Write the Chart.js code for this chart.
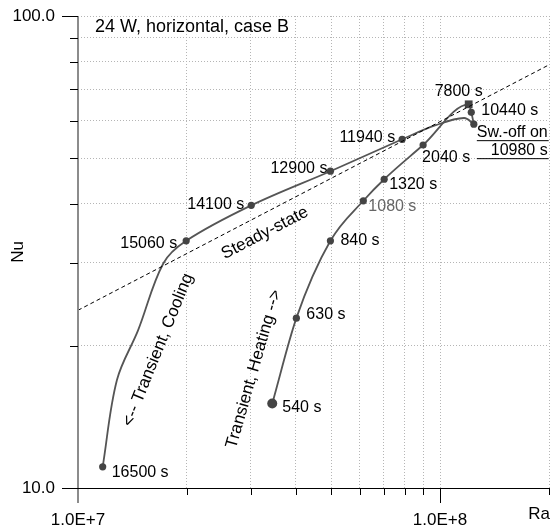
<!DOCTYPE html>
<html>
<head>
<meta charset="utf-8">
<script src="https://cdn.jsdelivr.net/npm/chart.js@4.4.1/dist/chart.umd.min.js"></script>
<style>
  html, body { margin: 0; padding: 0; background: #fff; }
  #wrap { width: 556px; height: 527px; }
</style>
</head>
<body>
<div id="wrap"><canvas id="chart" width="556" height="527"></canvas></div>
<script>
// axis ticks
const xTicks = [1e7, 2e7, 3e7, 4e7, 5e7, 6e7, 7e7, 8e7, 9e7, 1e8, 2e8];
const xTickLabels = { 1e7: '1.0E+7', 1e8: '1.0E+8' };
const yTicks = [10, 20, 30, 40, 50, 60, 70, 80, 90, 100];
const yTickLabels = { 10: '10.0', 100: '100.0' };

// steady-state correlation (dashed)
const steadyRa = [1e7, 2e8];
const steadyNu = [23.8, 78.8];

// transient heating
const heatTimes = ['540 s', '630 s', '840 s', '1080 s', '1320 s', '2040 s', '7800 s', '10440 s', '10980 s'];
const heatRa = [3.44e7, 4.01e7, 4.98e7, 6.14e7, 7.01e7, 8.98e7, 1.20e8, 1.22e8, 1.24e8];
const heatNu = [15.1, 22.9, 33.4, 40.6, 45.1, 53.3, 65.0, 62.5, 59.0];

// transient cooling (blank names = curve points without a marker)
const coolTimes = ['', '', '', '11940 s', '12900 s', '14100 s', '15060 s', '', '', '', '16500 s'];
const coolRa = [1.24e8, 1.165e8, 9.73e7, 7.86e7, 4.98e7, 3.01e7, 1.99e7, 1.72e7, 1.466e7, 1.281e7, 1.17e7];
const coolNu = [59.0, 60.8, 58.7, 54.8, 46.9, 39.7, 33.4, 29.9, 21.6, 16.94, 11.09];

const FONT = "'Liberation Sans', Arial, sans-serif";
const INK = '#444';

// label offsets from the marker: [dx, dy, align]
const labelOffsets = {
    '540 s': [10, 4, 'left'],
    '630 s': [10, -4, 'left'],
    '840 s': [10, 0, 'left'],
    '1080 s': [5, 6, 'left'],
    '1320 s': [5, 5, 'left'],
    '2040 s': [-1, 13, 'left'],
    '7800 s': [-10, -13, 'center'],
    '10440 s': [10, -2, 'left'],
    '10980 s': [3, 8, 'left'],
    '11940 s': [-7, -2, 'right'],
    '12900 s': [-3, -3, 'right'],
    '14100 s': [-7, -1, 'right'],
    '15060 s': [-9, 3, 'right'],
    '16500 s': [9, 6, 'left']
};

const toPoints = (xs, ys) => xs.map((v, i) => ({ x: v, y: ys[i] }));

const line = (ctx, x1, y1, x2, y2) => {
    ctx.beginPath();
    ctx.moveTo(x1, y1);
    ctx.lineTo(x2, y2);
    ctx.stroke();
};

const rotatedText = (ctx, text, x, y, deg) => {
    ctx.save();
    ctx.translate(x, y);
    ctx.rotate(deg * Math.PI / 180);
    ctx.textAlign = 'center';
    ctx.textBaseline = 'middle';
    ctx.fillText(text, 0, 0);
    ctx.restore();
};

// axes lines, tick marks, titles and text notes
const decor = {
    id: 'decor',
    afterDraw(chart) {
        const { ctx, chartArea: a, scales: { x, y } } = chart;
        ctx.save();

        // y axis, grey, runs down past the x axis to the 1.0E+7 label
        ctx.strokeStyle = '#8c8c8c';
        ctx.lineWidth = 2;
        line(ctx, a.left, a.top, a.left, a.bottom + 15);

        ctx.strokeStyle = '#000';
        ctx.lineWidth = 1;
        line(ctx, a.left - 16, a.bottom + 0.5, a.right, a.bottom + 0.5);
        xTicks.slice(1).forEach(v => {
            const px = Math.round(x.getPixelForValue(v)) + 0.5;
            line(ctx, px, a.bottom, px, a.bottom + (xTickLabels[v] ? 15 : 7));
        });
        yTicks.slice(1).forEach(v => {
            const py = Math.round(y.getPixelForValue(v)) + 0.5;
            line(ctx, a.left - (yTickLabels[v] ? 16 : 8), py, a.left, py);
        });

        ctx.fillStyle = '#000';
        ctx.textBaseline = 'middle';
        ctx.textAlign = 'left';
        ctx.font = `18px ${FONT}`;
        ctx.fillText('24 W, horizontal, case B', a.left + 17, a.top + 11);
        ctx.font = `17px ${FONT}`;
        ctx.textAlign = 'center';
        ctx.fillText('Ra', 539, 514);
        rotatedText(ctx, 'Nu', 18, (a.top + a.bottom) / 2, -90);

        rotatedText(ctx, 'Steady-state', 265, 233, -27.5);
        rotatedText(ctx, '<-- Transient, Cooling', 158, 350, -68);
        rotatedText(ctx, 'Transient, Heating -->', 254, 369, -74);
        ctx.restore();
    }
};

const pointLabels = {
    id: 'pointLabels',
    afterDatasetsDraw(chart) {
        const ctx = chart.ctx;
        ctx.save();
        ctx.font = `16px ${FONT}`;
        ctx.textBaseline = 'middle';
        [[1, heatTimes], [2, coolTimes]].forEach(([i, names]) => {
            chart.getDatasetMeta(i).data.forEach((pt, k) => {
                const name = names[k];
                const off = labelOffsets[name];
                if (!name || !off) return;
                const tx = pt.x + off[0];
                const ty = pt.y + off[1];
                ctx.fillStyle = name === '1080 s' ? '#666' : '#000';
                if (name === '10980 s') {
                    // switch-off note, two underlined lines
                    const w = ctx.measureText('Sw.-off on').width;
                    ctx.textAlign = 'left';
                    ctx.fillText('Sw.-off on', tx, ty);
                    ctx.textAlign = 'right';
                    ctx.fillText(name, tx + w, ty + 18);
                    ctx.strokeStyle = '#000';
                    ctx.lineWidth = 1;
                    line(ctx, tx, ty + 8.5, tx + w + 1, ty + 8.5);
                    line(ctx, tx, ty + 26.5, tx + w + 1, ty + 26.5);
                    return;
                }
                ctx.textAlign = off[2];
                ctx.fillText(name, tx, ty);
            });
        });
        ctx.restore();
    }
};

const gridLook = {
    color: '#b5b5b5',
    lineWidth: 1,
    drawTicks: false
};

// fixed box sizes, no extra label padding around the plot
const fixBox = (s, size) => {
    if (s.isHorizontal()) s.height = size; else s.width = size;
    s.paddingTop = s.paddingBottom = s.paddingLeft = s.paddingRight = 0;
};

new Chart(document.getElementById('chart'), {
    type: 'scatter',
    data: {
        datasets: [
            {
                label: 'Steady-state',
                data: toPoints(steadyRa, steadyNu),
                showLine: true,
                borderColor: '#000',
                borderWidth: 1,
                borderDash: [4, 3],
                pointRadius: 0
            },
            {
                label: 'Transient, Heating',
                data: toPoints(heatRa, heatNu),
                showLine: true,
                cubicInterpolationMode: 'monotone',
                borderColor: '#555',
                borderWidth: 1.8,
                pointStyle: heatTimes.map(t => t === '7800 s' ? 'rect' : 'circle'),
                pointRadius: heatTimes.map(t => t === '540 s' ? 5 : t === '7800 s' ? 5.5 : 3.6),
                pointBackgroundColor: INK,
                pointBorderWidth: 0
            },
            {
                label: 'Transient, Cooling',
                data: toPoints(coolRa, coolNu),
                showLine: true,
                tension: 0.35,
                borderColor: '#555',
                borderWidth: 1.8,
                pointRadius: coolTimes.map(t => t ? 3.6 : 0),
                pointBackgroundColor: INK,
                pointBorderWidth: 0
            }
        ]
    },
    options: {
        responsive: false,
        animation: false,
        events: [],
        layout: { padding: { top: 16, right: 7, left: 0, bottom: 0 }, autoPadding: false },
        plugins: {
            legend: { display: false },
            tooltip: { enabled: false }
        },
        scales: {
            x: {
                type: 'logarithmic',
                min: 1e7,
                max: 2e8,
                afterBuildTicks: s => { s.ticks = xTicks.map(v => ({ value: v })); },
                afterFit: s => fixBox(s, 39),
                grid: gridLook,
                border: { display: false, dash: [1, 2] },
                ticks: {
                    autoSkip: false,
                    maxRotation: 0,
                    padding: 22,
                    color: '#000',
                    font: { family: FONT, size: 17 },
                    callback: v => xTickLabels[v] || ''
                }
            },
            y: {
                type: 'logarithmic',
                min: 10,
                max: 100,
                afterBuildTicks: s => { s.ticks = yTicks.map(v => ({ value: v })); },
                afterFit: s => fixBox(s, 78),
                grid: gridLook,
                border: { display: false, dash: [1, 2] },
                ticks: {
                    autoSkip: false,
                    padding: 23,
                    color: '#000',
                    font: { family: FONT, size: 17 },
                    callback: v => yTickLabels[v] || ''
                }
            }
        }
    },
    plugins: [decor, pointLabels]
});
</script>
</body>
</html>
